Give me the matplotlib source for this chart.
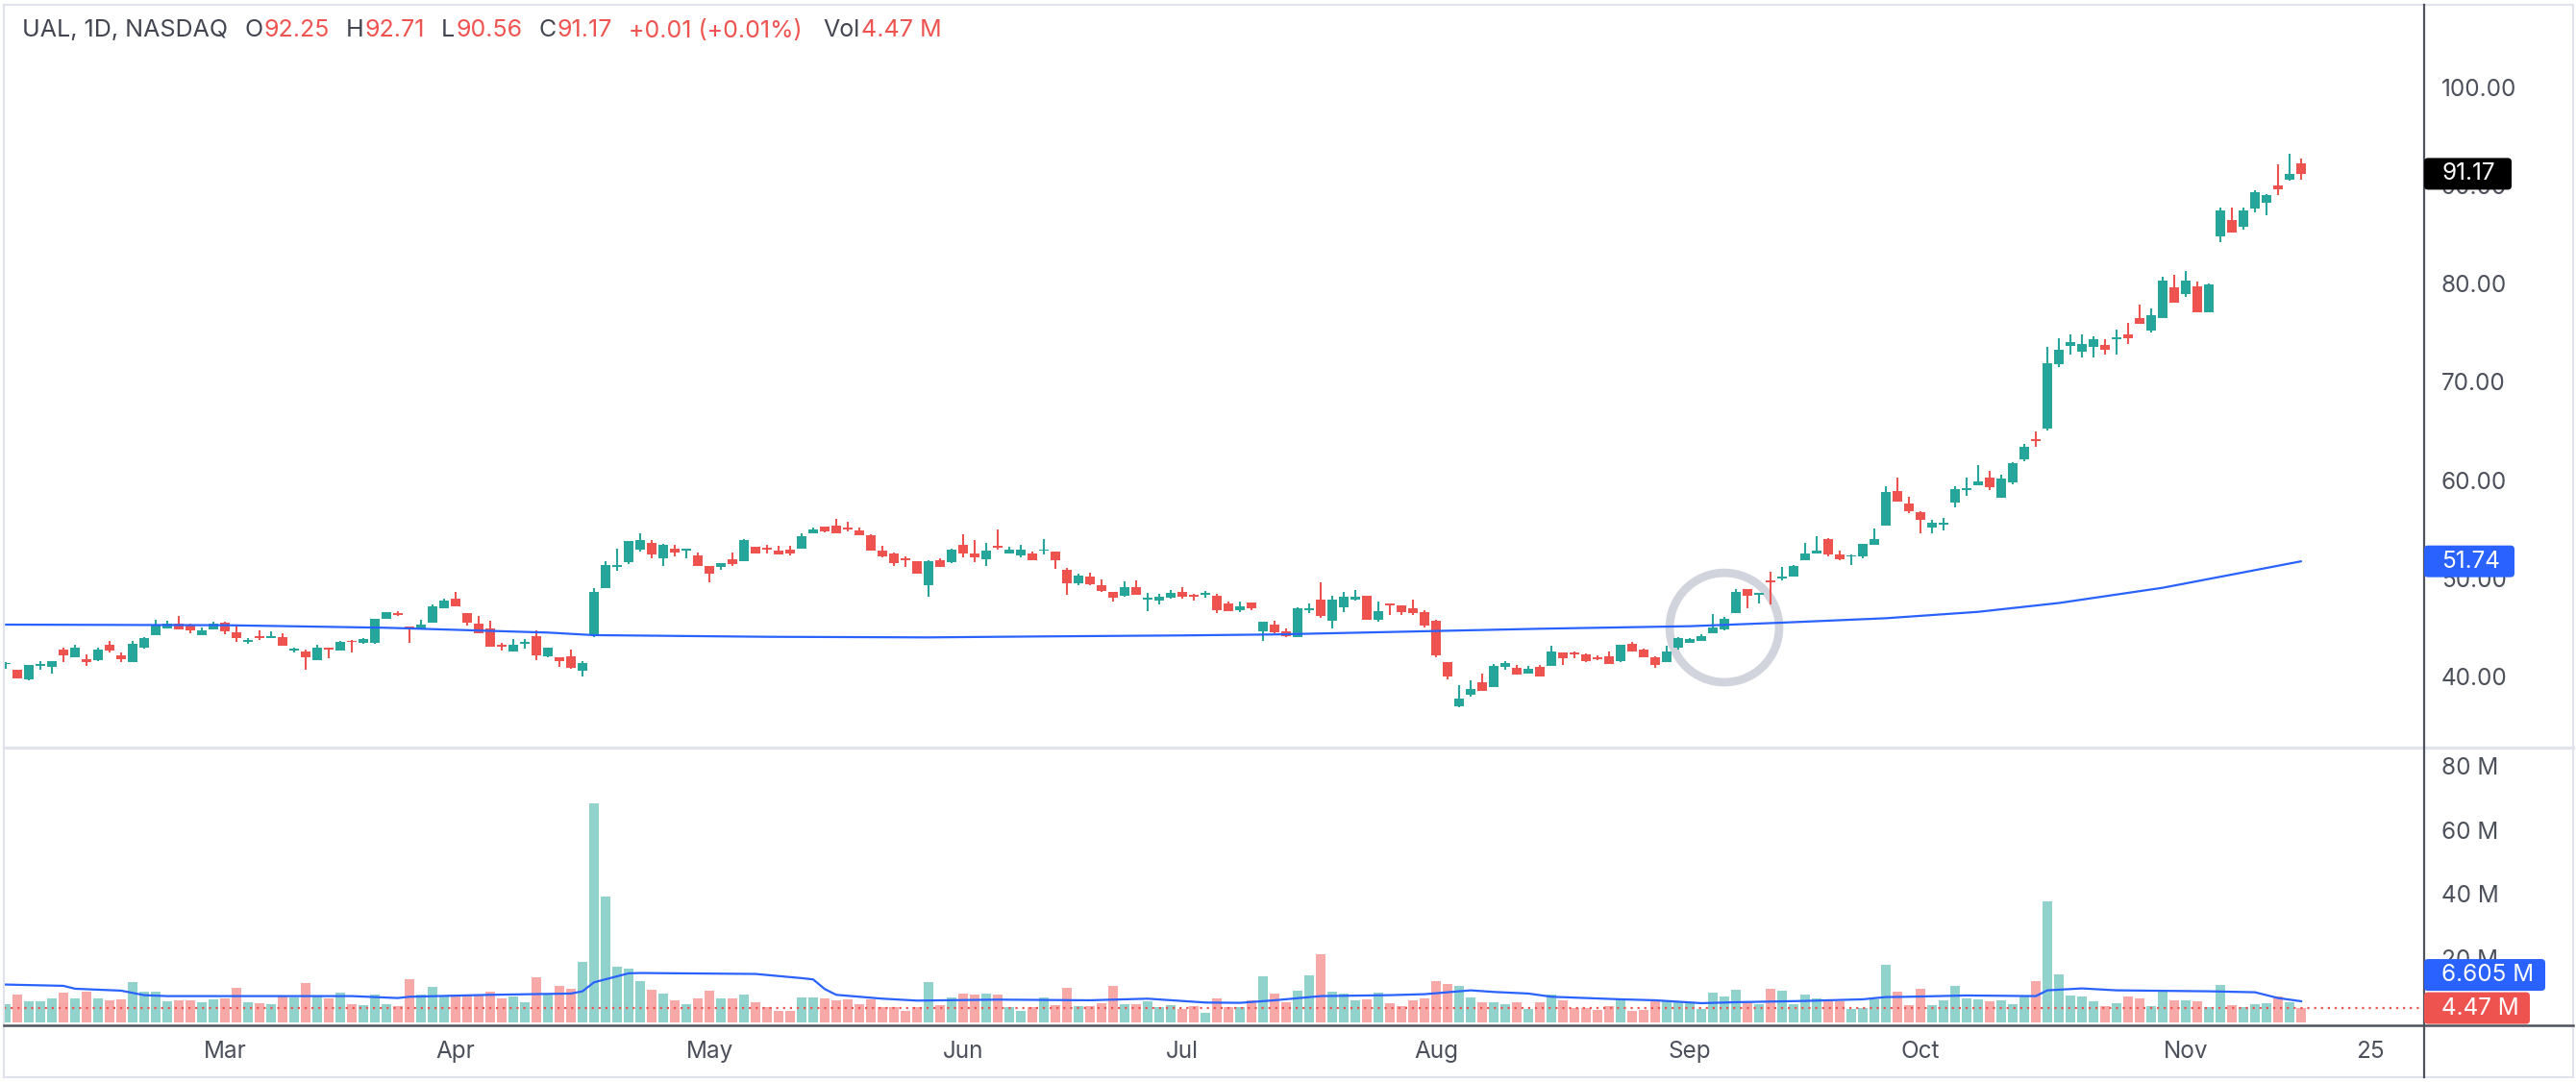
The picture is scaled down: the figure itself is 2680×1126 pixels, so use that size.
import matplotlib
matplotlib.use('Agg')
import matplotlib.pyplot as plt
from matplotlib.patches import FancyBboxPatch
from matplotlib.lines import Line2D
from matplotlib.text import Annotation
from matplotlib.transforms import IdentityTransform
import numpy as np

# ---------------- data (UAL daily) ----------------
opens = [41.25, 40.71, 39.76, 41.13, 41.00, 42.76, 42.01, 41.81, 41.72, 43.25,
         42.17, 41.52, 42.99, 44.26, 44.94, 45.40, 45.30, 44.26, 44.85, 45.50,
         44.52, 43.57, 44.13, 43.97, 44.03, 42.69, 42.56, 41.72, 42.96, 42.66,
         43.67, 43.48, 43.44, 45.92, 46.51, 45.11, 44.81, 45.53, 47.00, 47.94,
         46.48, 45.40, 44.91, 43.28, 42.60, 43.35, 44.13, 42.07, 41.98, 42.07,
         40.64, 44.23, 49.02, 51.20, 51.66, 52.96, 53.61, 52.08, 53.03, 52.86,
         52.34, 51.27, 51.17, 51.95, 51.76, 53.22, 53.12, 52.83, 52.93, 53.06,
         54.59, 55.24, 55.37, 55.18, 54.88, 54.40, 52.83, 52.54, 52.02, 51.76,
         49.34, 51.85, 51.66, 53.42, 52.54, 51.95, 53.32, 52.54, 52.34, 52.54,
         52.80, 52.73, 50.88, 49.51, 50.19, 49.31, 48.63, 48.24, 49.12, 47.88,
         47.75, 48.04, 48.63, 48.33, 48.37, 48.24, 47.45, 46.77, 47.55, 44.62,
         45.30, 44.62, 44.03, 46.77, 47.85, 45.69, 47.06, 47.85, 48.24, 45.79,
         47.45, 47.26, 46.97, 46.57, 45.69, 41.49, 36.99, 38.16, 39.44, 38.95,
         41.00, 40.90, 40.32, 41.00, 41.10, 42.47, 42.47, 42.27, 42.01, 42.08,
         41.59, 43.35, 42.76, 41.98, 41.49, 42.96, 43.44, 43.64, 44.42, 44.81,
         46.48, 48.92, 48.37, 49.77, 50.03, 50.19, 51.85, 52.54, 54.00, 52.44,
         52.21, 52.25, 53.42, 55.37, 58.89, 57.62, 56.74, 55.18, 55.50, 57.75,
         58.99, 59.47, 60.26, 58.20, 59.77, 62.11, 64.20, 65.24, 71.80, 73.65,
         73.07, 73.56, 73.75, 74.34, 74.83, 76.49, 75.25, 76.52, 79.62, 78.97,
         79.72, 77.08, 84.84, 86.47, 85.81, 87.67, 88.26, 89.99, 90.61, 92.25]

highs = [41.46, 40.75, 41.19, 41.55, 41.59, 42.96, 43.25, 42.27, 42.96, 43.67,
         42.47, 43.61, 44.03, 45.79, 45.66, 46.18, 45.43, 44.98, 45.60, 45.60,
         45.17, 43.90, 44.72, 44.59, 44.42, 42.96, 42.76, 43.25, 42.98, 43.64,
         43.69, 43.93, 45.91, 46.60, 46.70, 45.13, 45.79, 47.36, 47.94, 48.66,
         46.50, 46.18, 45.69, 43.44, 43.80, 43.84, 44.72, 43.00, 42.00, 42.76,
         41.59, 49.02, 51.76, 53.03, 53.78, 54.59, 53.91, 53.52, 53.42, 53.05,
         52.64, 51.29, 51.58, 52.64, 54.00, 53.24, 53.39, 53.29, 53.29, 54.59,
         55.20, 55.26, 56.06, 55.80, 55.15, 54.49, 53.32, 52.60, 52.21, 51.78,
         51.89, 52.05, 53.03, 54.49, 53.91, 53.61, 54.98, 53.22, 53.42, 52.73,
         54.00, 52.75, 51.07, 50.49, 50.58, 49.90, 48.65, 49.70, 49.80, 48.53,
         48.43, 48.82, 49.12, 48.43, 48.72, 48.43, 47.65, 47.65, 47.57, 45.62,
         45.69, 44.91, 47.06, 47.45, 49.60, 48.24, 48.63, 48.82, 48.26, 47.65,
         47.47, 47.28, 47.85, 46.77, 45.79, 41.51, 39.14, 39.63, 40.32, 41.29,
         41.59, 41.20, 41.10, 41.20, 43.15, 42.49, 42.56, 42.37, 42.17, 42.56,
         43.27, 43.54, 42.86, 42.08, 43.15, 44.03, 43.93, 44.33, 46.38, 46.08,
         48.92, 48.94, 48.55, 50.68, 51.17, 51.37, 53.61, 54.30, 54.10, 52.83,
         52.44, 53.54, 55.08, 59.38, 60.30, 58.31, 56.84, 55.96, 56.16, 59.38,
         60.26, 61.53, 60.94, 60.55, 61.82, 63.68, 64.95, 73.56, 74.44, 74.83,
         74.83, 74.63, 74.34, 75.32, 76.00, 77.86, 77.47, 80.70, 80.89, 81.28,
         80.21, 80.01, 87.74, 87.74, 87.74, 89.50, 89.11, 92.14, 93.21, 92.71]

lows = [40.84, 39.82, 39.66, 40.74, 40.35, 41.49, 41.98, 41.10, 41.62, 42.50,
        41.52, 41.50, 42.82, 44.24, 44.92, 44.83, 44.42, 44.24, 44.83, 44.32,
        43.57, 43.38, 43.74, 43.95, 43.16, 42.47, 40.74, 41.70, 41.88, 42.64,
        42.50, 43.38, 43.35, 45.90, 46.15, 43.44, 44.79, 45.51, 46.98, 47.17,
        45.20, 44.43, 43.07, 42.69, 42.58, 42.89, 41.72, 41.98, 41.00, 40.80,
        40.02, 44.06, 49.00, 50.81, 51.50, 52.77, 52.08, 51.27, 52.28, 52.05,
        51.25, 49.60, 50.91, 51.27, 51.74, 52.50, 52.54, 52.45, 52.34, 53.04,
        54.57, 54.69, 54.60, 54.82, 54.41, 52.84, 52.18, 51.30, 51.17, 50.47,
        48.17, 51.15, 51.56, 52.15, 51.66, 51.27, 52.93, 52.52, 52.15, 51.83,
        52.44, 50.97, 48.33, 49.31, 49.31, 48.63, 47.65, 48.14, 48.31, 46.67,
        47.36, 47.94, 47.94, 47.75, 48.04, 46.48, 46.65, 46.57, 46.77, 43.64,
        44.42, 44.03, 44.01, 46.48, 45.99, 44.91, 46.57, 47.75, 45.77, 45.60,
        46.28, 46.28, 46.28, 45.01, 41.98, 39.76, 36.89, 37.97, 38.54, 38.93,
        40.71, 40.20, 40.30, 40.00, 41.08, 41.20, 41.88, 41.49, 41.69, 41.27,
        41.49, 42.54, 41.96, 40.90, 41.47, 42.76, 43.42, 43.62, 44.40, 44.72,
        46.46, 46.97, 47.45, 47.36, 49.80, 50.17, 51.83, 52.52, 52.25, 51.85,
        51.37, 52.05, 53.40, 55.35, 57.80, 56.65, 54.59, 54.59, 54.88, 57.23,
        58.40, 59.45, 58.99, 58.18, 59.57, 61.92, 63.39, 65.05, 71.50, 72.77,
        72.48, 72.48, 72.77, 72.77, 73.88, 75.92, 75.06, 76.50, 78.07, 78.68,
        77.06, 77.06, 84.25, 85.21, 85.52, 87.28, 86.99, 89.04, 90.51, 90.56]

closes = [41.35, 39.86, 41.19, 41.33, 41.59, 42.17, 42.96, 41.52, 42.76, 42.69,
          41.81, 43.35, 43.93, 45.20, 45.40, 44.85, 44.75, 44.72, 45.40, 44.65,
          43.97, 43.77, 43.93, 44.13, 43.18, 42.86, 42.01, 42.96, 42.79, 43.54,
          43.51, 43.84, 45.89, 46.57, 46.28, 44.94, 45.30, 47.19, 47.78, 47.19,
          45.53, 44.45, 43.09, 43.09, 43.25, 43.51, 42.20, 42.96, 41.62, 40.87,
          41.39, 48.63, 51.36, 51.36, 53.78, 53.91, 52.47, 53.42, 52.67, 53.03,
          51.27, 50.48, 51.56, 51.50, 53.91, 52.54, 52.96, 52.47, 52.54, 54.30,
          54.98, 54.76, 54.62, 55.02, 54.43, 52.86, 52.28, 51.59, 51.82, 50.49,
          51.76, 51.17, 52.93, 52.57, 52.15, 52.83, 53.13, 52.93, 52.93, 51.85,
          52.96, 51.85, 49.51, 50.29, 49.41, 48.72, 48.04, 49.12, 48.33, 48.04,
          48.14, 48.53, 48.14, 48.17, 48.53, 46.77, 46.67, 47.16, 46.97, 45.60,
          44.52, 44.13, 46.97, 46.97, 46.18, 47.85, 48.14, 48.14, 45.79, 46.67,
          47.26, 46.57, 46.48, 45.20, 42.17, 40.06, 37.77, 38.75, 38.56, 41.10,
          41.39, 40.22, 40.81, 40.02, 42.56, 41.88, 42.27, 41.59, 41.82, 41.29,
          43.25, 42.56, 41.98, 41.20, 42.56, 43.93, 43.84, 44.13, 45.01, 45.89,
          48.63, 48.24, 48.53, 49.60, 50.19, 51.27, 52.54, 52.83, 52.44, 51.95,
          52.34, 53.52, 54.00, 58.80, 57.82, 56.84, 55.96, 55.67, 55.67, 59.08,
          59.18, 59.87, 59.28, 60.16, 61.72, 63.39, 64.00, 71.89, 73.26, 74.04,
          73.85, 74.34, 73.26, 74.53, 74.47, 75.94, 76.79, 80.30, 78.09, 80.30,
          77.08, 79.92, 87.44, 85.23, 87.44, 89.30, 89.01, 89.63, 91.16, 91.17]

volumes_m = [5.7, 8.7, 6.6, 6.6, 7.5, 9.3, 7.5, 9.6, 7.5, 6.9,
             7.2, 12.6, 9.6, 9.6, 6.6, 6.9, 6.9, 6.3, 7.2, 7.5,
             10.8, 6.3, 6.0, 5.7, 8.1, 7.8, 12.3, 8.1, 7.5, 9.3,
             5.7, 5.4, 8.7, 5.7, 5.1, 13.5, 8.7, 11.1, 8.1, 8.7,
             8.7, 8.7, 9.6, 7.5, 8.1, 6.3, 14.1, 8.7, 11.4, 10.5,
             18.9, 68.3, 39.3, 17.4, 16.8, 12.9, 10.2, 9.0, 6.9, 5.7,
             7.5, 9.9, 7.5, 7.5, 8.7, 6.3, 4.8, 3.6, 3.6, 7.8,
             7.8, 7.5, 6.9, 7.2, 5.7, 7.2, 4.8, 4.8, 3.6, 4.8,
             12.6, 5.4, 7.8, 9.0, 8.7, 9.0, 8.7, 4.8, 3.6, 4.8,
             7.8, 5.4, 10.8, 5.1, 5.1, 6.0, 11.4, 5.7, 5.7, 6.6,
             4.8, 5.4, 4.2, 5.1, 3.0, 7.5, 4.8, 4.8, 6.9, 14.4,
             9.0, 6.3, 9.9, 14.7, 21.3, 9.6, 9.0, 6.9, 7.2, 9.3,
             6.0, 5.1, 6.9, 7.5, 12.9, 12.0, 11.4, 7.8, 6.3, 6.3,
             5.7, 6.3, 4.2, 6.3, 8.7, 6.9, 4.5, 4.5, 3.9, 5.1,
             7.2, 3.6, 3.9, 6.6, 6.6, 6.3, 6.0, 4.2, 9.3, 8.1,
             10.2, 6.3, 5.7, 10.5, 9.9, 5.7, 8.7, 7.5, 6.6, 6.6,
             4.2, 4.5, 7.2, 18.0, 9.6, 5.4, 10.5, 5.4, 6.9, 11.4,
             7.5, 7.2, 6.6, 6.9, 5.7, 8.1, 12.9, 37.6, 15.0, 8.4,
             8.1, 6.6, 5.1, 6.0, 8.1, 7.5, 5.1, 9.6, 6.9, 6.9,
             6.6, 4.8, 11.7, 5.4, 4.8, 5.7, 6.0, 8.1, 6.3, 4.47]

# long moving average on price
ma_idx = [0, 19, 33, 47, 51, 66, 80, 90, 102, 110, 122, 133, 146, 154, 163, 171, 178, 187, 199]
ma_val = [45.3, 45.24, 44.98, 44.49, 44.23, 44.06, 44.0, 44.1, 44.2, 44.3, 44.6, 44.88,
          45.14, 45.5, 45.95, 46.6, 47.5, 49.05, 51.74]

# volume moving average
vma_idx = [0, 5, 6, 10, 12, 14, 21, 30, 34, 35, 42, 49, 50, 51, 54, 55, 65, 69, 70, 71,
           72, 76, 79, 86, 94, 99, 104, 107, 110, 114, 120, 123, 127, 129, 132, 134,
           140, 143, 147, 150, 156, 161, 163, 165, 170, 176, 177, 180, 183, 191, 195, 197, 199]
vma_val = [11.8, 11.4, 10.5, 9.9, 8.5, 8.2, 8.2, 8.2, 7.6, 8.0, 8.6, 9.0, 9.7, 12.5, 15.3,
           15.4, 15.1, 13.8, 13.4, 10.4, 8.6, 7.4, 6.8, 7.1, 6.9, 7.4, 6.2, 6.1, 6.9, 8.2,
           8.5, 8.8, 10.0, 9.5, 9.0, 8.0, 7.2, 6.9, 6.0, 6.3, 6.7, 7.2, 7.9, 8.0, 8.4, 8.2,
           10.0, 10.6, 10.0, 9.7, 9.4, 7.6, 6.6]

month_tick_idx = [19, 39, 61, 83, 102, 124, 146, 166, 189, 205]
month_labels = ['Mar', 'Apr', 'May', 'Jun', 'Jul', 'Aug', 'Sep', 'Oct', 'Nov', '25']
price_ticks = [40, 50, 60, 70, 80, 90, 100]
volume_ticks = [20, 40, 60, 80]

# legend pieces: (text, colour kind, gap in px before it)
header_parts = [("UAL, 1D, NASDAQ", 'dark', 0), ("O", 'dark', 17), ("92.25", 'red', 1),
                ("H", 'dark', 17), ("92.71", 'red', 1), ("L", 'dark', 17),
                ("90.56", 'red', 1), ("C", 'dark', 17), ("91.17", 'red', 1),
                ("+0.01 (+0.01%)", 'red', 17), ("Vol", 'dark', 22), ("4.47 M", 'red', 1)]

last_price = 91.17
last_ma = 51.74
last_vol = 4.47
last_vma = 6.605
highlight_idx, highlight_price = 149, 45.0

# ---------------- style ----------------
TEAL = '#26a69a'
RED = '#ef5350'
TEAL_L = '#92d2cc'
RED_L = '#f7a9a7'
BLUE = '#2962ff'
TXT = '#4c505b'
HDR = '#434651'
BORDER = '#e0e3eb'
AXLINE = '#50535e'

plt.rcParams['font.family'] = ['Inter', 'DejaVu Sans']

W, H = 2680, 1126
fig = plt.figure(figsize=(W / 100, H / 100), dpi=100)
fig.patch.set_facecolor('white')

def fxf(px):
    return px / W

def fyf(py):
    return 1 - py / H

L, R = 4, 2521
P_TOP, P_BOT = 5, 777
V_TOP, V_BOT = 779, 1066
ax1 = fig.add_axes([fxf(L), fyf(P_BOT), (R - L) / W, (P_BOT - P_TOP) / H])
ax2 = fig.add_axes([fxf(L), fyf(V_BOT), (R - L) / W, (V_BOT - V_TOP) / H])

SP = 12.0   # px per bar
X0 = 6.0    # px of first bar
xlim = ((L - X0) / SP, (R - X0) / SP)
for ax in (ax1, ax2):
    ax.set_xlim(*xlim)
    ax.set_facecolor('none')
    for s in ax.spines.values():
        s.set_visible(False)

# price scale: 100 at y=90.6px, 10.227 px per dollar
PPX = 10.227
ax1.set_ylim(100 - (P_BOT - 90.6) / PPX, 100 + (90.6 - P_TOP) / PPX)
# volume scale: 0 at y=1064px, 3.34 px per million
VPX = 3.34
ax2.set_ylim((1064 - V_BOT) / VPX, (1064 - V_TOP) / VPX)

o = np.array(opens); h = np.array(highs); l = np.array(lows); c = np.array(closes)
idx = np.arange(len(o))
up = c >= o
col = np.where(up, TEAL, RED)
vcol = np.where(up, TEAL_L, RED_L)

# highlight ring
ax1.scatter([highlight_idx], [highlight_price], s=82 ** 2, facecolors='none',
            edgecolors='#d1d4dc', linewidths=6.3, zorder=1)

ax1.vlines(idx, l, h, colors=col, linewidth=1.5, zorder=3)
body_lo = np.minimum(o, c)
body_h = np.maximum(np.abs(c - o), 0.13)
ax1.bar(idx, body_h, bottom=body_lo, width=0.82, color=col, linewidth=0, zorder=3)
ax1.plot(ma_idx, ma_val, color=BLUE, linewidth=1.6, zorder=4, solid_capstyle='round')

ax2.bar(idx, volumes_m, width=0.82, color=vcol, linewidth=0, zorder=2)
ax2.plot(vma_idx, vma_val, color=BLUE, linewidth=1.6, zorder=4)
ax2.axhline(last_vol, xmin=0, xmax=1, color=RED, linewidth=1.6,
            linestyle=(0, (1, 2.2)), zorder=3)

# ticks
ax1.set_xticks([])
ax1.yaxis.tick_right()
ax1.set_yticks(price_ticks)
ax1.set_yticklabels([f"{v:.2f}" for v in price_ticks])
ax1.tick_params(axis='y', length=0, pad=13.5, labelsize=17.5, labelcolor=TXT)

ax2.yaxis.tick_right()
ax2.set_yticks(volume_ticks)
ax2.set_yticklabels([f"{v} M" for v in volume_ticks])
ax2.tick_params(axis='y', length=0, pad=13.5, labelsize=17.5, labelcolor=TXT)
ax2.set_xticks(month_tick_idx)
ax2.set_xticklabels(month_labels)
ax2.tick_params(axis='x', length=0, pad=12, labelsize=17.5, labelcolor=TXT)

# frame lines (pixel coordinates, y from top)
def hline(y, x0, x1, color, lw):
    fig.add_artist(Line2D([fxf(x0), fxf(x1)], [fyf(y), fyf(y)], color=color, linewidth=lw))

def vline(x, y0, y1, color, lw):
    fig.add_artist(Line2D([fxf(x), fxf(x)], [fyf(y0), fyf(y1)], color=color, linewidth=lw))

hline(5, 4, 2677, BORDER, 1.5)
hline(1121, 4, 2677, BORDER, 1.5)
vline(4, 5, 1121, BORDER, 1.5)
vline(2677, 5, 1121, BORDER, 1.5)
hline(778, 4, 2677, BORDER, 2.4)
hline(1067, 4, 2677, AXLINE, 1.8)
vline(2522, 5, 1121, AXLINE, 1.6)

# value labels on the scale
def scale_label(ycenter_top, text, fc, width, hgt=33):
    yd = H - ycenter_top
    box = FancyBboxPatch((2522, yd - hgt / 2), width, hgt,
                         boxstyle='round,pad=0,rounding_size=4',
                         transform=IdentityTransform(), facecolor=fc, edgecolor='none', zorder=5)
    fig.add_artist(box)
    fig.text(fxf(2540), yd / H, text, color='white', fontsize=17.5, va='center', ha='left',
             zorder=6)

def ytop_from(ax, val):
    yd = ax.transData.transform((0, val))[1]
    return H - yd

scale_label(ytop_from(ax1, last_price), f"{last_price:.2f}", '#000000', 91)
scale_label(ytop_from(ax1, last_ma), f"{last_ma:.2f}", BLUE, 94)
y_vol = ytop_from(ax2, last_vol)
scale_label(y_vol, f"{last_vol:.2f} M", RED, 110)
scale_label(y_vol - 34.5, f"{last_vma:.3f} M", BLUE, 126)

# header legend: pieces chained one after another
HFS = 18
first_text, first_kind, _ = header_parts[0]
prev = fig.text(fxf(23), fyf(32), first_text, color=HDR, fontsize=HFS,
                va='center', ha='left')
for text, kind, gap in header_parts[1:]:
    color = HDR if kind == 'dark' else RED
    ann = Annotation(text, xy=(1, 0.5), xycoords=prev, xytext=(gap, 0),
                     textcoords='offset pixels', color=color, fontsize=HFS,
                     va='center', ha='left', annotation_clip=False)
    fig.add_artist(ann)
    prev = ann

fig.savefig('out.png', dpi=100, facecolor='white')
